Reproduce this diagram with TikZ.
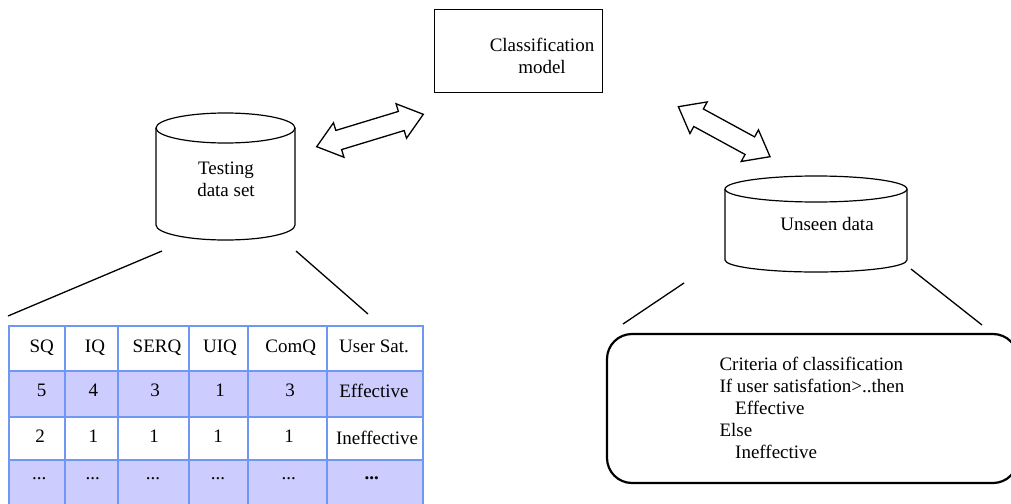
\documentclass[tikz,border=0pt]{standalone}
\usepackage{fontspec}
\setmainfont{Liberation Serif}
\definecolor{tblue}{RGB}{112,152,242}
\definecolor{rowfill}{RGB}{204,204,255}
\tikzset{
  txt/.style={inner sep=0pt, font=\fontsize{19}{22}\selectfont},
  btxt/.style={txt, anchor=base},
  bwtxt/.style={txt, anchor=base west},
  cyl/.style={draw=black, line width=1.2pt},
  boxstyle/.style={draw=black, line width=1.4pt},
  critbox/.style={draw=black, line width=2.2pt, rounded corners=25pt},
  tline/.style={draw=tblue, line width=2.8pt},
  arr/.style={draw=black, line width=1.3pt, fill=white, line join=miter},
  spoke/.style={draw=black, line width=1.3pt},
}
\newcommand{\dblarrow}[4]{% name, center, angle, half length
  \begin{scope}[shift={#2}, rotate=#3]
    \draw[arr] ({-#4},0) -- ({-#4+23},-18) -- ({-#4+23},-10) -- ({#4-23},-10) -- ({#4-23},-18) -- ({#4},0)
      -- ({#4-23},18) -- ({#4-23},10) -- ({-#4+23},10) -- ({-#4+23},18) -- cycle;
    \coordinate (#1) at (0,0);
  \end{scope}}
\begin{document}
\begin{tikzpicture}[x=1pt,y=-1pt]
\useasboundingbox (0,0) rectangle (1011,503);
\fill[white] (0,0) rectangle (1011,503);

% classification model
\node[boxstyle, minimum width=168pt, minimum height=83pt, inner sep=0pt] (model) at (518.5,51) {};
\node[txt, align=center] (modeltxt) at (542,56) {Classification\\model};

% testing data set cylinder
\draw[cyl] (156,128) -- (156,225) arc[start angle=180, end angle=360, x radius=69.5pt, y radius=15pt] -- (295,128);
\draw[cyl] (225.5,128) ellipse[x radius=69.5pt, y radius=15pt];
\node[txt, align=center] (testing) at (226,179) {Testing\\data set};

% unseen data cylinder
\draw[cyl] (725,189) -- (725,260) arc[start angle=180, end angle=360, x radius=91pt, y radius=12pt] -- (907,189);
\draw[cyl] (816,189) ellipse[x radius=91pt, y radius=13pt];
\node[txt] (unseen) at (827,224) {Unseen data};

% double arrows
\dblarrow{arrL}{(370,130.5)}{16.9}{55.7}
\dblarrow{arrR}{(724.2,131.7)}{-28.6}{52.2}

% spokes
\coordinate (tl1) at (162,251); \coordinate (tl2) at (8,316);
\coordinate (tr1) at (296,251); \coordinate (tr2) at (368,314);
\coordinate (ul1) at (684,283); \coordinate (ul2) at (623,324);
\coordinate (ur1) at (911,269); \coordinate (ur2) at (982,325);
\draw[spoke] (tl1) -- (tl2);
\draw[spoke] (tr1) -- (tr2);
\draw[spoke] (ul1) -- (ul2);
\draw[spoke] (ur1) -- (ur2);

% table
\fill[rowfill] (9,371) rectangle (423,417);
\fill[rowfill] (9,460) rectangle (423,512);
\foreach \x in {9,65,118,189,248,327,423} \draw[tline] (\x,326) -- (\x,512);
\foreach \y in {326,371,417,460} \draw[tline] (7.6,\y) -- (424.4,\y);
\node[btxt] (h1) at (41.7,352) {SQ};
\node[btxt] (h2) at (95,352) {IQ};
\node[btxt] (h3) at (157,352) {SERQ};
\node[btxt] (h4) at (220,352) {UIQ};
\node[btxt] (h5) at (290.7,352) {ComQ};
\node[btxt] (h6) at (374,352) {User Sat.};
\node[btxt] (a1) at (41.7,396) {5};
\node[btxt] (a2) at (93.3,396) {4};
\node[btxt] (a3) at (155,396) {3};
\node[btxt] (a4) at (220,396) {1};
\node[btxt] (a5) at (290,396) {3};
\node[btxt] (a6) at (374,397) {Effective};
\node[btxt] (b1) at (40,442) {2};
\node[btxt] (b2) at (93.3,442) {1};
\node[btxt] (b3) at (154,442) {1};
\node[btxt] (b4) at (218,442) {1};
\node[btxt] (b5) at (289,442) {1};
\node[btxt] (b6) at (377,444) {Ineffective};
\node[btxt] (c1) at (39.3,479) {...};
\node[btxt] (c2) at (92.7,479) {...};
\node[btxt] (c3) at (153,479) {...};
\node[btxt] (c4) at (218,479) {...};
\node[btxt] (c5) at (288.7,479) {...};
\node[btxt] (c6) at (371.7,479) {\textbf{...}};

% criteria box
\node[critbox, minimum width=411pt, minimum height=149pt, inner sep=0pt] (crit) at (812.5,408.5) {};
\node[bwtxt] (k1) at (719.3,370) {Criteria of classification};
\node[bwtxt] (k2) at (719.3,392) {If user satisfation>..then};
\node[bwtxt] (k3) at (735,414) {Effective};
\node[bwtxt] (k4) at (719.3,436) {Else};
\node[bwtxt] (k5) at (735,458) {Ineffective};
\end{tikzpicture}
\end{document}
